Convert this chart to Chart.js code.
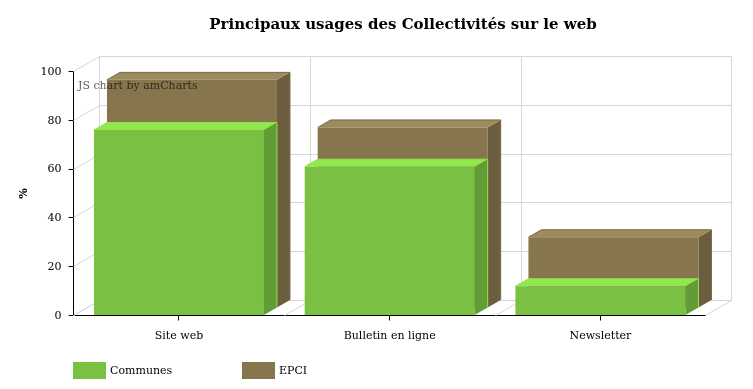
<!DOCTYPE html>
<html>
<head>
<meta charset="utf-8">
<style>body{margin:0;background:#fff}canvas{display:block}</style>
<script src="https://cdn.jsdelivr.net/npm/chart.js@4"></script>
</head>
<body>
<canvas id="chart" width="753" height="389"></canvas>
<script>
var categories = ["Site web", "Bulletin en ligne", "Newsletter"];
var communes = [76, 61, 12];
var epci = [93.5, 74, 29];

var depthX = 13, depthY = -7.5;
var faces = ["#7ac143", "#86754d"];
var tops = ["#91e84e", "#9c8b5c"];
var sides = ["#639c36", "#6b5e3e"];
var edges = ["#8fe54d", "#7a6a45"];

function poly(ctx, pts, fill) {
  ctx.beginPath();
  ctx.moveTo(pts[0][0], pts[0][1]);
  for (var i = 1; i < pts.length; i++) ctx.lineTo(pts[i][0], pts[i][1]);
  ctx.closePath();
  ctx.fillStyle = fill;
  ctx.fill();
}

function line(ctx, x1, y1, x2, y2) {
  ctx.beginPath();
  ctx.moveTo(Math.floor(x1) + .5, Math.floor(y1) + .5);
  ctx.lineTo(Math.floor(x2) + .5, Math.floor(y2) + .5);
  ctx.stroke();
}

// fake 3d box: walls behind the plot, bar sides, watermark and legend
var box3d = {
  id: "box3d",
  afterLayout: function (chart) {
    chart.titleBlock.left = 73;
    chart.titleBlock.right = 733;
  },
  beforeDatasetsDraw: function (chart) {
    var ctx = chart.ctx, a = chart.chartArea, y = chart.scales.y;
    var dx = depthX * 2, dy = depthY * 2;
    ctx.save();
    ctx.strokeStyle = "#d6d6d6";
    ctx.lineWidth = 1;
    y.ticks.forEach(function (t) {
      var py = y.getPixelForValue(t.value);
      line(ctx, a.left, py, a.left + dx, py + dy);
      line(ctx, a.left + dx, py + dy, a.right + dx, py + dy);
    });
    var step = (a.right - a.left) / categories.length;
    for (var i = 0; i <= categories.length; i++) {
      var px = a.left + step * i;
      line(ctx, px, a.bottom, px + dx, a.bottom + dy);
      line(ctx, px + dx, a.top + dy, px + dx, a.bottom + dy);
    }
    ctx.restore();
  },
  beforeDatasetDraw: function (chart, args) {
    var ctx = chart.ctx, i = args.index;
    ctx.save();
    ctx.translate(depthX * i, depthY * i);
    args.meta.data.forEach(function (bar) {
      var p = bar.getProps(["x", "y", "base", "width"], true);
      var l = p.x - p.width / 2, r = p.x + p.width / 2;
      poly(ctx, [[r, p.y], [r + depthX, p.y + depthY], [r + depthX, p.base + depthY], [r, p.base]], sides[i]);
      poly(ctx, [[l, p.y], [l + depthX, p.y + depthY], [r + depthX, p.y + depthY], [r, p.y]], tops[i]);
      ctx.strokeStyle = edges[i];
      ctx.lineWidth = 1;
      ctx.beginPath();
      ctx.moveTo(l, p.y);
      ctx.lineTo(l + depthX, p.y + depthY);
      ctx.lineTo(r + depthX, p.y + depthY);
      ctx.lineTo(r + depthX, p.base + depthY);
      ctx.stroke();
    });
  },
  afterDatasetDraw: function (chart) {
    chart.ctx.restore();
  },
  afterDraw: function (chart) {
    var ctx = chart.ctx;
    ctx.save();
    ctx.font = "11px 'DejaVu Serif'";
    ctx.textBaseline = "middle";
    ctx.fillStyle = "rgba(0,0,0,0.65)";
    ctx.fillText("JS chart by amCharts", 78, 86.5);
    var legendX = [73, 242];
    chart.data.datasets.forEach(function (ds, i) {
      ctx.fillStyle = faces[i];
      ctx.fillRect(legendX[i], 362, 33, 17);
      ctx.fillStyle = "#000";
      ctx.fillText(ds.label, legendX[i] + 37, 371.5);
    });
    ctx.restore();
  }
};

Chart.defaults.font.family = "'DejaVu Serif'";
Chart.defaults.font.size = 11;
Chart.defaults.color = "#000";

new Chart(document.getElementById("chart"), {
  type: "bar",
  data: {
    labels: categories,
    datasets: [
      { label: "Communes", data: communes, backgroundColor: faces[0], clip: false },
      { label: "EPCI", data: epci, backgroundColor: faces[1], clip: false }
    ]
  },
  options: {
    responsive: false,
    animation: false,
    layout: { padding: { left: 0, right: 47.2, top: 16, bottom: 33.5 } },
    datasets: { bar: { grouped: false, categoryPercentage: 1, barPercentage: 0.8067 } },
    plugins: {
      legend: { display: false },
      tooltip: { enabled: false },
      title: {
        display: true,
        text: "Principaux usages des Collectivités sur le web",
        font: { size: 15, weight: "bold" },
        padding: { top: 0, bottom: 37.5 }
      }
    },
    scales: {
      x: {
        afterFit: function (s) { s.height = 40; },
        grid: { offset: false, drawOnChartArea: false, color: "#000", tickLength: 5 },
        border: { color: "#000", width: 1 },
        ticks: { padding: 9.5, maxRotation: 0 }
      },
      y: {
        min: 0,
        max: 100,
        afterFit: function (s) { s.width = 73.6; },
        grid: { drawOnChartArea: false, color: "#000", tickLength: 5 },
        border: { color: "#000", width: 1 },
        ticks: { stepSize: 20, padding: 7, labelOffset: 0.5 },
        title: { display: true, text: "%", font: { size: 11, weight: "bold" }, padding: { top: 18, bottom: 9 } }
      }
    }
  },
  plugins: [box3d]
});
</script>
</body>
</html>
